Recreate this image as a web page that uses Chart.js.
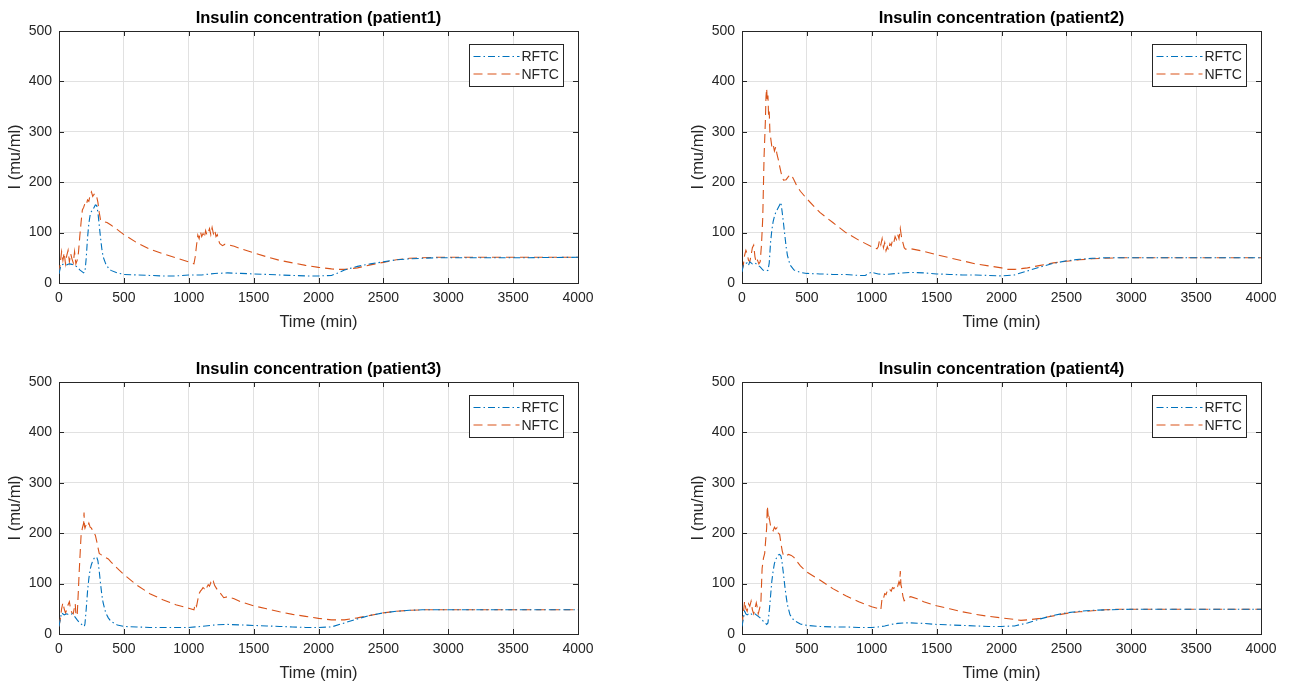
<!DOCTYPE html>
<html>
<head>
<meta charset="utf-8">
<script src="https://cdn.jsdelivr.net/npm/chart.js@4.4.1/dist/chart.umd.min.js"></script>
<style>
  body { margin: 0; background: #fff; overflow: hidden; }
  canvas { position: absolute; }
</style>
</head>
<body>
<canvas id="p1" width="640" height="340" style="left:0px;top:0px"></canvas>
<canvas id="p2" width="640" height="340" style="left:683px;top:0px"></canvas>
<canvas id="p3" width="640" height="340" style="left:0px;top:351px"></canvas>
<canvas id="p4" width="640" height="340" style="left:683px;top:351px"></canvas>
<script>

const xTicks = [0, 500, 1000, 1500, 2000, 2500, 3000, 3500, 4000];
const yTicks = [0, 100, 200, 300, 400, 500];
const seriesNames = ["RFTC", "NFTC"];
const panelTitles = [
    "Insulin concentration (patient1)",
    "Insulin concentration (patient2)",
    "Insulin concentration (patient3)",
    "Insulin concentration (patient4)"
];

// patient 1
const rftcT1 = [0,10,20,40,60,80,100,120,140,160,180,190,200,210,220,230,240,250,260,270,280,290,300,310,320,330,340,360,380,400,450,500,600,700,800,900,1000,1100,1200,1300,1400,1500,1600,1700,1800,1900,2000,2100,2150,2200,2300,2400,2500,2600,2700,2800,2900,3000,3500,4000];
const rftcI1 = [18,30,36,38,36,38,37,35,32,26,22,20,22,50,90,118,135,142,145,150,155,154,140,115,90,68,52,38,30,25,20,17,16,15,14,14,16,16,19,20,19,18,17,16,15,14,14,15,20,26,33,38,42,46,48,49,50,50,50,51];
const nftcT1 = [0,10,20,30,40,50,60,70,80,90,100,110,120,130,140,150,160,170,180,190,200,210,220,230,240,250,260,270,280,290,300,310,320,340,370,400,450,500,600,700,800,900,1000,1040,1050,1060,1070,1080,1090,1100,1110,1120,1130,1140,1150,1160,1170,1180,1190,1200,1210,1220,1230,1240,1260,1280,1300,1350,1400,1500,1600,1700,1800,1900,2000,2100,2150,2200,2300,2400,2500,2600,2700,2800,2900,3000,3500,4000];
const nftcI1 = [18,40,62,45,60,38,55,65,42,58,48,40,62,38,45,60,92,120,145,150,158,155,165,162,175,181,172,176,170,172,160,140,125,122,120,115,106,96,80,67,58,50,42,38,52,75,95,88,102,92,98,90,104,95,100,108,96,110,98,105,92,96,84,78,74,77,76,73,68,60,52,45,40,35,31,28,27,27,30,36,41,46,49,50,51,51,51,51];

// patient 2
const rftcT2 = [0,10,20,40,50,60,80,100,120,140,160,180,200,210,220,230,240,250,260,270,280,290,300,310,320,330,340,350,370,400,450,500,600,700,800,900,950,1000,1020,1050,1100,1200,1300,1400,1500,1600,1700,1800,1900,2000,2100,2200,2300,2400,2500,2600,2700,2800,3000,4000];
const rftcI2 = [22,35,38,40,35,42,38,40,36,32,26,24,25,40,80,105,122,132,140,145,150,155,160,140,118,95,72,55,36,26,21,19,18,17,17,15,15,22,20,18,17,19,21,20,18,17,16,16,15,14,16,24,32,39,44,47,49,50,50,50];
const nftcT2 = [0,10,20,30,40,50,60,70,80,90,100,110,120,130,140,150,160,170,180,185,190,195,200,205,210,215,220,225,230,240,250,260,270,280,290,300,310,320,340,360,380,400,420,450,500,600,700,800,900,1000,1040,1050,1060,1070,1080,1090,1100,1110,1120,1130,1140,1150,1160,1170,1180,1190,1200,1210,1220,1230,1240,1250,1260,1300,1400,1500,1600,1700,1800,1900,2000,2050,2100,2200,2300,2400,2500,2600,2700,2800,2900,3000,4000];
const nftcI2 = [25,35,55,65,58,45,42,55,70,75,52,40,45,38,42,75,130,250,320,370,386,360,372,330,340,300,290,280,270,275,262,270,255,245,232,220,210,204,205,212,215,205,194,182,167,140,120,100,85,72,68,72,85,76,88,70,80,64,72,65,78,74,85,80,92,86,96,88,108,90,80,70,67,68,63,56,50,44,38,34,30,27,27,30,35,40,43,46,48,49,50,50,50];

// patient 3
const rftcT3 = [0,10,20,40,60,80,100,120,140,160,180,195,200,210,220,230,240,250,260,270,280,290,300,310,320,330,340,360,380,400,450,500,600,700,800,900,1000,1100,1200,1300,1400,1500,1600,1700,1800,1900,2000,2100,2200,2300,2400,2500,2600,2700,2800,3000,4000];
const rftcI3 = [15,30,42,38,40,38,40,35,28,22,18,15,20,50,85,110,128,138,145,150,152,153,145,125,100,78,62,42,32,25,18,15,14,13,13,13,13,15,18,19,18,17,16,15,14,13,13,14,22,30,37,42,45,47,48,48,48];
const nftcT3 = [0,10,20,30,40,50,60,70,80,90,100,110,120,125,130,140,150,155,160,170,180,190,193,196,200,210,220,230,240,250,260,270,280,290,300,310,320,350,380,400,450,500,600,700,800,900,1000,1040,1050,1060,1070,1080,1090,1100,1110,1120,1130,1140,1150,1160,1170,1180,1190,1200,1210,1220,1230,1240,1270,1300,1350,1400,1500,1600,1700,1800,1900,2000,2100,2200,2300,2400,2500,2600,2700,2800,2900,3000,4000];
const nftcI3 = [15,30,50,62,50,42,48,58,64,48,42,40,55,60,40,36,90,120,145,195,210,220,241,215,210,218,214,220,212,210,205,200,196,185,172,160,158,153,149,143,130,118,97,80,68,58,51,48,60,55,68,80,85,88,92,90,96,93,98,95,102,98,104,96,92,88,85,82,72,74,70,64,56,50,44,39,35,31,28,28,32,37,42,45,47,48,48,48,48];

// patient 4
const rftcT4 = [0,10,20,30,40,60,80,100,120,140,150,170,190,200,210,220,230,240,250,260,270,280,290,300,310,320,330,340,350,370,400,450,500,600,700,800,900,1000,1050,1100,1150,1200,1250,1300,1400,1500,1600,1700,1800,1900,2000,2100,2200,2300,2400,2500,2600,2700,2800,3000,4000];
const rftcI4 = [15,30,45,40,38,42,38,40,36,32,29,24,19,22,45,75,105,125,140,148,153,157,158,155,140,118,95,75,58,38,27,20,17,15,14,14,13,13,14,16,19,21,22,22,21,19,18,17,16,15,15,16,22,30,37,42,45,47,48,49,49];
const nftcT4 = [0,10,20,30,40,50,60,70,80,90,100,110,120,125,130,140,145,155,165,175,180,190,195,200,205,210,220,230,240,250,260,270,280,290,300,310,320,340,360,380,400,420,450,500,600,700,800,900,1000,1060,1070,1080,1090,1100,1110,1120,1130,1140,1150,1160,1170,1180,1190,1200,1210,1215,1220,1225,1230,1240,1250,1280,1300,1350,1400,1500,1600,1700,1800,1900,2000,2100,2150,2200,2300,2400,2500,2600,2700,2800,2900,3000,3500,4000];
const nftcI4 = [18,40,65,50,45,60,55,65,48,40,50,62,50,40,45,55,58,130,150,160,178,210,254,240,225,230,215,210,205,212,208,211,200,198,180,165,155,155,158,156,152,145,135,123,107,90,76,64,54,50,48,72,70,80,78,86,84,88,85,92,90,96,98,95,104,100,125,98,92,75,66,72,74,70,64,56,50,44,39,35,32,29,27,28,31,36,41,44,46,48,49,49,49,49];

const rftcColor = "#0072BD";
const nftcColor = "#D95319";
const axisColor = "#262626";
const fontFamily = "'Liberation Sans', Arial, sans-serif";

function toPoints(times, values) {
    return times.map((t, i) => ({ x: t, y: values[i] }));
}

// MATLAB style box: title, ticks pointing inwards on all sides, top/right border, legend inside
const matlabFrame = {
    id: "matlabFrame",
    afterDraw(chart, args, opts) {
        const ctx = chart.ctx;
        const area = chart.chartArea;
        const xs = chart.scales.x;
        const ys = chart.scales.y;

        ctx.save();
        ctx.strokeStyle = axisColor;
        ctx.lineWidth = 1;
        ctx.beginPath();
        ctx.moveTo(area.left, area.top + 0.5);
        ctx.lineTo(area.right + 0.5, area.top + 0.5);
        ctx.lineTo(area.right + 0.5, area.bottom);
        ctx.stroke();

        const tickLen = 5;
        ctx.beginPath();
        xTicks.forEach(v => {
            const px = Math.round(xs.getPixelForValue(v)) + 0.5;
            ctx.moveTo(px, area.bottom);
            ctx.lineTo(px, area.bottom - tickLen);
            ctx.moveTo(px, area.top);
            ctx.lineTo(px, area.top + tickLen);
        });
        yTicks.forEach(v => {
            const py = Math.round(ys.getPixelForValue(v)) + 0.5;
            ctx.moveTo(area.left, py);
            ctx.lineTo(area.left + tickLen, py);
            ctx.moveTo(area.right, py);
            ctx.lineTo(area.right - tickLen, py);
        });
        ctx.stroke();

        // title
        ctx.fillStyle = "#000";
        ctx.font = "bold 16.5px " + fontFamily;
        ctx.textAlign = "center";
        ctx.textBaseline = "alphabetic";
        ctx.fillText(opts.text, (area.left + area.right) / 2, area.top - 8);

        // legend
        const boxW = 94, boxH = 42;
        const bx = Math.round(area.right - 15 - boxW) + 0.5;
        const by = Math.round(area.top + 13) + 0.5;
        ctx.fillStyle = "#fff";
        ctx.fillRect(bx, by, boxW, boxH);
        ctx.strokeStyle = axisColor;
        ctx.strokeRect(bx, by, boxW, boxH);

        ctx.font = "14px " + fontFamily;
        ctx.textAlign = "left";
        ctx.textBaseline = "middle";
        chart.data.datasets.forEach((ds, i) => {
            const ly = by + 12 + i * 17.5;
            ctx.strokeStyle = ds.borderColor;
            ctx.lineWidth = ds.borderWidth;
            ctx.setLineDash(ds.borderDash);
            ctx.beginPath();
            ctx.moveTo(bx + 4, ly);
            ctx.lineTo(bx + 50, ly);
            ctx.stroke();
            ctx.setLineDash([]);
            ctx.fillStyle = axisColor;
            ctx.fillText(ds.label, bx + 52, ly + 1);
        });
        ctx.restore();
    }
};

function makePanel(canvasId, title, rT, rI, nT, nI) {
    return new Chart(document.getElementById(canvasId).getContext("2d"), {
        type: "line",
        data: {
            datasets: [
                {
                    label: seriesNames[0],
                    data: toPoints(rT, rI),
                    borderColor: rftcColor,
                    borderWidth: 1.1,
                    borderDash: [7, 3, 1.5, 3],
                    pointRadius: 0,
                    tension: 0,
                    fill: false
                },
                {
                    label: seriesNames[1],
                    data: toPoints(nT, nI),
                    borderColor: nftcColor,
                    borderWidth: 1.1,
                    borderDash: [9, 5],
                    pointRadius: 0,
                    tension: 0,
                    fill: false
                }
            ]
        },
        options: {
            responsive: false,
            animation: false,
            layout: { padding: { left: 0, right: 62, top: 31, bottom: 0 } },
            plugins: {
                legend: { display: false },
                tooltip: { enabled: false },
                title: { display: false },
                matlabFrame: { text: title }
            },
            scales: {
                x: {
                    type: "linear",
                    min: 0,
                    max: 4000,
                    afterBuildTicks: s => { s.ticks = xTicks.map(v => ({ value: v })); },
                    afterFit: s => { s.height = 57; },
                    grid: { color: "#e1e1e1", drawTicks: false },
                    border: { color: axisColor, width: 1 },
                    ticks: {
                        color: axisColor,
                        padding: 7,
                        maxRotation: 0,
                        callback: v => String(v),
                        font: { family: fontFamily, size: 14 }
                    },
                    title: {
                        display: true,
                        text: "Time (min)",
                        color: axisColor,
                        padding: { top: 0, bottom: 8 },
                        font: { family: fontFamily, size: 16.5 }
                    }
                },
                y: {
                    type: "linear",
                    min: 0,
                    max: 500,
                    afterBuildTicks: s => { s.ticks = yTicks.map(v => ({ value: v })); },
                    afterFit: s => { s.width = 59; },
                    grid: { color: "#e1e1e1", drawTicks: false },
                    border: { color: axisColor, width: 1 },
                    ticks: {
                        color: axisColor,
                        padding: 7,
                        callback: v => String(v),
                        font: { family: fontFamily, size: 14 }
                    },
                    title: {
                        display: true,
                        text: "I (mu/ml)",
                        color: axisColor,
                        padding: { top: 6, bottom: 0 },
                        font: { family: fontFamily, size: 16.5 }
                    }
                }
            }
        },
        plugins: [matlabFrame]
    });
}

makePanel("p1", panelTitles[0], rftcT1, rftcI1, nftcT1, nftcI1);
makePanel("p2", panelTitles[1], rftcT2, rftcI2, nftcT2, nftcI2);
makePanel("p3", panelTitles[2], rftcT3, rftcI3, nftcT3, nftcI3);
makePanel("p4", panelTitles[3], rftcT4, rftcI4, nftcT4, nftcI4);
</script>
</body>
</html>
